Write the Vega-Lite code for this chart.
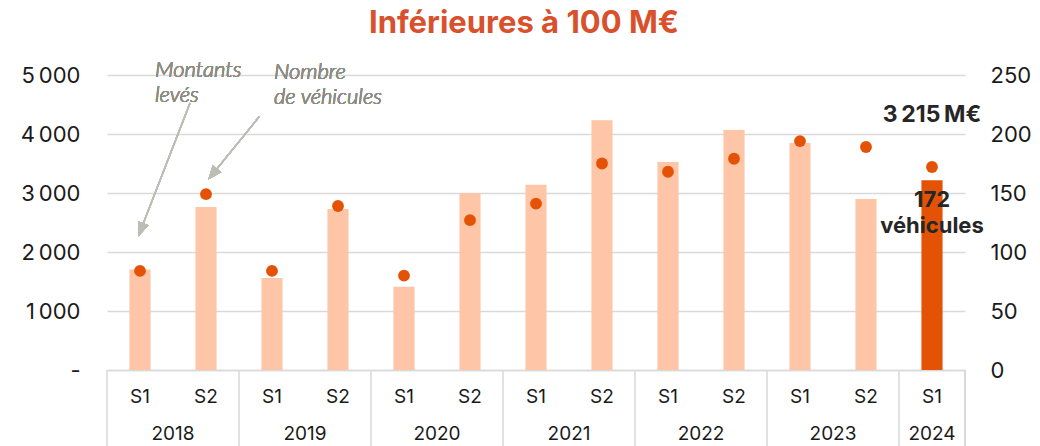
{
  "$schema": "https://vega.github.io/schema/vega-lite/v6.json",
  "autosize": {"type": "none"},
  "width": 858,
  "height": 295,
  "padding": {"left": 107, "top": 75, "right": 75, "bottom": 76},
  "background": "white",
  "config": {
    "view": {"stroke": null},
    "font": "Inter",
    "locale": {"number": {"decimal": ",", "thousands": "\u202f", "grouping": [3], "currency": ["", "\u202fM€"]}},
    "axis": {"labelFont": "Inter", "labelColor": "#1a1a1a"}
  },
  "title": {"text": "Inférieures à 100 M€", "font": "Inter", "fontSize": 31, "fontWeight": "bold", "color": "#D9512C", "anchor": "middle", "frame": "group", "offset": 19, "dx": -12},
  "datasets": {
    "main": [
      {"period": "2018 S1", "year": "2018", "semester": "S1", "amount": 1705, "vehicles": 84},
      {"period": "2018 S2", "year": "2018", "semester": "S2", "amount": 2763, "vehicles": 149},
      {"period": "2019 S1", "year": "2019", "semester": "S1", "amount": 1559, "vehicles": 84},
      {"period": "2019 S2", "year": "2019", "semester": "S2", "amount": 2729, "vehicles": 139},
      {"period": "2020 S1", "year": "2020", "semester": "S1", "amount": 1412, "vehicles": 80},
      {"period": "2020 S2", "year": "2020", "semester": "S2", "amount": 3000, "vehicles": 127},
      {"period": "2021 S1", "year": "2021", "semester": "S1", "amount": 3141, "vehicles": 141},
      {"period": "2021 S2", "year": "2021", "semester": "S2", "amount": 4231, "vehicles": 175},
      {"period": "2022 S1", "year": "2022", "semester": "S1", "amount": 3525, "vehicles": 168},
      {"period": "2022 S2", "year": "2022", "semester": "S2", "amount": 4068, "vehicles": 179},
      {"period": "2023 S1", "year": "2023", "semester": "S1", "amount": 3847, "vehicles": 194},
      {"period": "2023 S2", "year": "2023", "semester": "S2", "amount": 2898, "vehicles": 189},
      {"period": "2024 S1", "year": "2024", "semester": "S1", "amount": 3215, "vehicles": 172}
    ]
  },
  "data": {"name": "main"},
  "resolve": {"scale": {"y": "independent"}},
  "layer": [
    {
      "layer": [
        {
          "mark": {"type": "bar", "width": {"band": 0.32}},
          "encoding": {
            "x": {"field": "period", "type": "ordinal", "sort": null,
              "scale": {"paddingInner": 0, "paddingOuter": 0},
              "axis": {"title": null, "labelExpr": "slice(datum.value, 5)", "labelAngle": 0, "labelFontSize": 19, "labelPadding": 32, "labelBaseline": "alphabetic", "ticks": false, "tickSize": 0, "domain": true, "domainColor": "#D9D9D9", "domainWidth": 1.5, "grid": false}},
            "y": {"field": "amount", "type": "quantitative",
              "scale": {"domain": [0, 5000], "nice": false},
              "axis": {"title": null, "orient": "left", "values": [0, 1000, 2000, 3000, 4000, 5000], "labelExpr": "datum.value == 0 ? '-\u00a0\u00a0' : format(datum.value, ',.0f')", "labelFontSize": 22, "labelPadding": 27, "ticks": false, "tickSize": 0, "domain": false, "grid": true, "gridColor": "#D9D9D9", "gridWidth": 1.5}},
            "color": {"condition": {"test": "datum.period == '2024 S1'", "value": "#E35205"}, "value": "#FEC5A6"}
          }
        },
        {
          "transform": [{"filter": "datum.semester == 'S1'"}],
          "mark": {"type": "rule", "color": "#D9D9D9", "strokeWidth": 1.5},
          "encoding": {
            "x": {"field": "period", "type": "ordinal", "bandPosition": 0},
            "y": {"datum": 0},
            "y2": {"datum": -1400}
          }
        },
        {
          "mark": {"type": "rule", "color": "#D9D9D9", "strokeWidth": 1.5},
          "encoding": {
            "x": {"datum": "2024 S1", "type": "ordinal", "bandPosition": 1},
            "y": {"datum": 0},
            "y2": {"datum": -1400}
          }
        },
        {
          "transform": [{"filter": "datum.semester == 'S1' && datum.year != '2024'"}],
          "mark": {"type": "text", "fontSize": 19, "color": "#1a1a1a", "baseline": "middle", "align": "center"},
          "encoding": {
            "x": {"field": "period", "type": "ordinal", "bandPosition": 1},
            "y": {"datum": -1090},
            "text": {"field": "year"}
          }
        },
        {
          "transform": [{"filter": "datum.year == '2024'"}],
          "mark": {"type": "text", "fontSize": 19, "color": "#1a1a1a", "baseline": "middle", "align": "center"},
          "encoding": {
            "x": {"field": "period", "type": "ordinal", "bandPosition": 0.5},
            "y": {"datum": -1090},
            "text": {"field": "year"}
          }
        },
        {
          "transform": [{"filter": "datum.period == '2024 S1'"}],
          "mark": {"type": "text", "fontSize": 23, "fontWeight": "bold", "color": "#262626", "baseline": "alphabetic", "align": "center", "dy": -58},
          "encoding": {
            "x": {"field": "period", "type": "ordinal"},
            "y": {"field": "amount", "type": "quantitative"},
            "text": {"field": "amount", "type": "quantitative", "format": "$,.0f"}
          }
        },
        {
          "mark": {"type": "text", "font": "Lato", "fontSize": 22, "fontStyle": "italic", "fontWeight": 300, "color": "#8C8C82", "baseline": "alphabetic", "align": "left", "lineHeight": 25},
          "encoding": {
            "x": {"datum": "2018 S1", "type": "ordinal", "bandPosition": 0.727},
            "y": {"datum": 4971},
            "text": {"value": ["Montants", "levés"]}
          }
        },
        {
          "mark": {"type": "text", "font": "Lato", "fontSize": 22, "fontStyle": "italic", "fontWeight": 300, "color": "#8C8C82", "baseline": "alphabetic", "align": "left", "lineHeight": 25},
          "encoding": {
            "x": {"datum": "2019 S1", "type": "ordinal", "bandPosition": 0.53},
            "y": {"datum": 4937},
            "text": {"value": ["Nombre", "de véhicules"]}
          }
        },
        {
          "mark": {"type": "rule", "color": "#BDBDB5", "strokeWidth": 1.3},
          "encoding": {
            "x": {"datum": "2018 S2", "type": "ordinal", "bandPosition": 0.258},
            "x2": {"datum": "2018 S1", "bandPosition": 0.512},
            "y": {"datum": 4525},
            "y2": {"datum": 2375}
          }
        },
        {
          "mark": {"type": "point", "shape": "M0,-1L-0.8,1L0.8,1Z", "filled": true, "size": 196, "angle": 201, "color": "#BDBDB5", "opacity": 1},
          "encoding": {
            "x": {"datum": "2018 S1", "type": "ordinal", "bandPosition": 0.512},
            "y": {"datum": 2375}
          }
        },
        {
          "mark": {"type": "rule", "color": "#BDBDB5", "strokeWidth": 1.3},
          "encoding": {
            "x": {"datum": "2019 S1", "type": "ordinal", "bandPosition": 0.31},
            "x2": {"datum": "2018 S2", "bandPosition": 0.6},
            "y": {"datum": 4298},
            "y2": {"datum": 3319}
          }
        },
        {
          "mark": {"type": "point", "shape": "M0,-1L-0.8,1L0.8,1Z", "filled": true, "size": 196, "angle": 219, "color": "#BDBDB5", "opacity": 1},
          "encoding": {
            "x": {"datum": "2018 S2", "type": "ordinal", "bandPosition": 0.6},
            "y": {"datum": 3319}
          }
        }
      ]
    },
    {
      "layer": [
        {
          "mark": {"type": "circle", "size": 140, "color": "#E35205", "opacity": 1},
          "encoding": {
            "x": {"field": "period", "type": "ordinal"},
            "y": {"field": "vehicles", "type": "quantitative",
              "scale": {"domain": [0, 250], "nice": false},
              "axis": {"title": null, "orient": "right", "values": [0, 50, 100, 150, 200, 250], "labelFontSize": 22, "labelPadding": 25, "ticks": false, "tickSize": 0, "domain": false, "grid": false}}
          }
        },
        {
          "transform": [{"filter": "datum.period == '2024 S1'"}],
          "mark": {"type": "text", "fontSize": 22, "fontWeight": "bold", "color": "#262626", "baseline": "alphabetic", "align": "center", "dy": 40},
          "encoding": {
            "x": {"field": "period", "type": "ordinal"},
            "y": {"field": "vehicles", "type": "quantitative"},
            "text": {"field": "vehicles", "type": "quantitative"}
          }
        },
        {
          "transform": [{"filter": "datum.period == '2024 S1'"}],
          "mark": {"type": "text", "fontSize": 22, "fontWeight": "bold", "color": "#262626", "baseline": "alphabetic", "align": "center", "dy": 66},
          "encoding": {
            "x": {"field": "period", "type": "ordinal"},
            "y": {"field": "vehicles", "type": "quantitative"},
            "text": {"value": "véhicules"}
          }
        }
      ]
    }
  ]
}
